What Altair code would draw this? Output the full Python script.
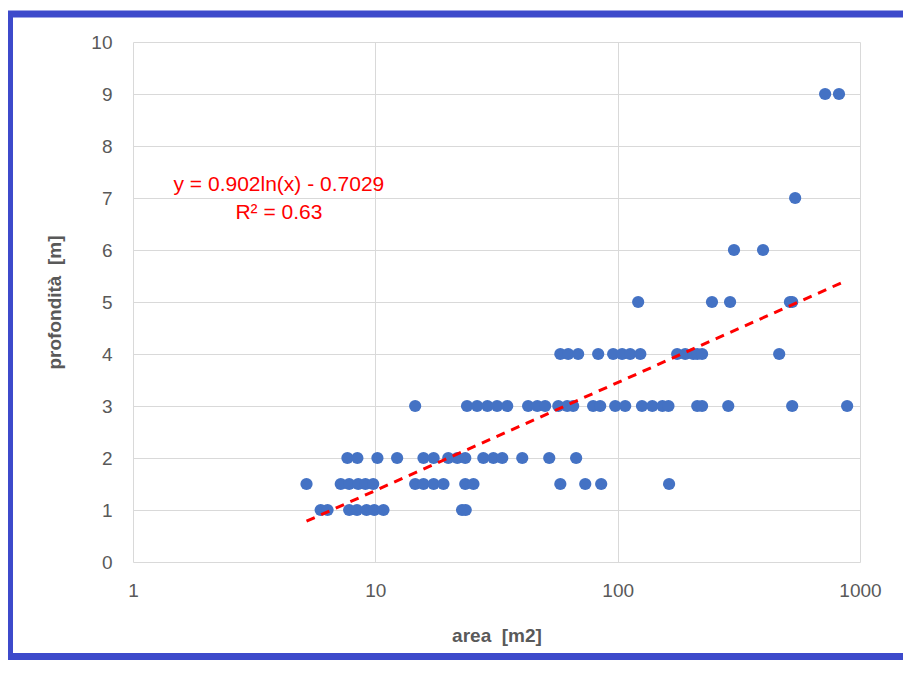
import altair as alt
import pandas as pd

# ---- data ----
DEPTH_1 = [5.95, 6.35, 7.8, 8.4, 9.2, 9.9, 10.8, 22.8, 23.6]
DEPTH_1_5 = [5.2, 7.2, 7.8, 8.5, 9.1, 9.8, 14.6, 15.8, 17.4, 19.1, 23.5, 25.4, 58, 73.5, 85.5, 163]
DEPTH_2 = [7.67, 8.43, 10.2, 12.3, 15.8, 17.4, 20.0, 21.8, 23.5, 27.9, 30.7, 33.4, 40.4, 52.2, 67.4]
DEPTH_3 = [14.6, 23.9, 26.3, 29.0, 31.8, 35.0, 42.7, 46.6, 50.2, 56.9, 61.9, 65.5, 79.2, 84.7,
           97.7, 107.4, 126, 139, 153, 162, 213, 223, 286, 525, 885]
DEPTH_4 = [58, 62.5, 68.7, 83.1, 95.8, 104.3, 112.6, 124, 176, 190, 205, 213, 223, 464]
DEPTH_5 = [121.5, 245, 291, 514, 525]
DEPTH_6 = [302, 398]
DEPTH_7 = [540]
DEPTH_9 = [718, 819]

ROWS = [(1, DEPTH_1), (1.5, DEPTH_1_5), (2, DEPTH_2), (3, DEPTH_3), (4, DEPTH_4),
        (5, DEPTH_5), (6, DEPTH_6), (7, DEPTH_7), (9, DEPTH_9)]

# trend line coefficients (from the chart's equation)
TREND_A = 0.902
TREND_B = -0.7029
EQ_LINES = ["y = 0.902ln(x) - 0.7029", "R² = 0.63"]
EQ_AREA = [4.0, 4.0]
EQ_DEPTH = [7.25, 6.72]

X_TICKS = [1, 10, 100, 1000]
Y_TICKS = list(range(0, 11))

records = [{"area": a, "depth": d} for d, lst in ROWS for a in lst]
df = pd.DataFrame(records)
all_area = [r["area"] for r in records]
trend_df = pd.DataFrame({"area": [min(all_area), max(all_area)]})
eq_df = pd.DataFrame({"area": EQ_AREA, "depth": EQ_DEPTH, "label": EQ_LINES})

FONT = "Liberation Sans"
GREY = "#595959"

x_enc = alt.X("area:Q",
              scale=alt.Scale(type="log", domain=[1, 1000], nice=False),
              axis=alt.Axis(values=X_TICKS, format="d", title="area\u00a0 [m2]",
                            grid=True, gridColor="#d9d9d9", domain=False, ticks=False,
                            labelFlush=False,
                            labelPadding=19, labelFontSize=19, labelColor=GREY, labelFont=FONT,
                            titleFontSize=19, titleColor=GREY, titleFont=FONT,
                            titleFontWeight="bold", titlePadding=26))
y_enc = alt.Y("depth:Q",
              scale=alt.Scale(domain=[0, 10], nice=False),
              axis=alt.Axis(values=Y_TICKS, title="profondità\u00a0 [m]",
                            grid=True, gridColor="#d9d9d9", domain=False, ticks=False,
                            labelFlush=False,
                            labelPadding=21, labelFontSize=19, labelColor=GREY, labelFont=FONT,
                            titleFontSize=19, titleColor=GREY, titleFont=FONT,
                            titleFontWeight="bold", titlePadding=26))

points = alt.Chart(df).mark_circle(size=150, color="#4472c4", opacity=1).encode(x=x_enc, y=y_enc)

trend = alt.Chart(trend_df).transform_calculate(
    depth=f"{TREND_A} * log(datum.area) + ({TREND_B})"
).mark_line(color="#ff0000", strokeWidth=3, strokeDash=[9, 7]).encode(
    x="area:Q", y="depth:Q")

eq_text = alt.Chart(eq_df).mark_text(color="#ff0000", fontSize=21, font=FONT,
                                     align="center", baseline="middle").encode(
    x="area:Q", y="depth:Q", text="label:N")

frame = alt.Chart(pd.DataFrame({"k": [0]})).mark_rect(
    fill=None, stroke="#3d4acb", strokeWidth=7, clip=False).encode(
    x=alt.value(-123.5), x2=alt.value(1000), y=alt.value(-28), y2=alt.value(614.5))

chart = alt.layer(frame, points, trend, eq_text).properties(
    width=727, height=520,
    autosize=alt.AutoSizeParams(type="none"),
    padding={"left": 125, "top": 34, "right": 43, "bottom": 98},
    background="white",
).configure_view(stroke=None)

chart.save("out.html", embed_options={"renderer": "svg", "actions": False})
